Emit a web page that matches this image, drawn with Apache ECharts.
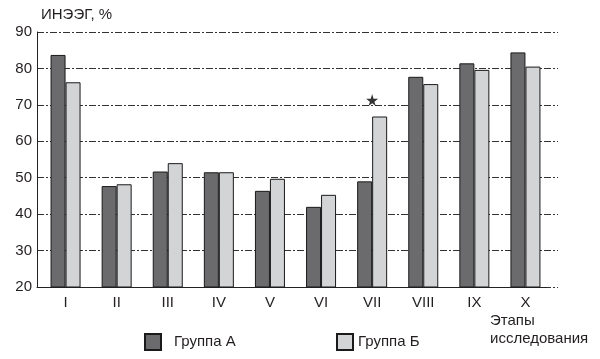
<!DOCTYPE html>
<html>
<head>
<meta charset="utf-8">
<script src="https://cdn.jsdelivr.net/npm/echarts@6/dist/echarts.min.js"></script>
<style>html,body{margin:0;padding:0;background:#fff}#c{width:600px;height:359px}</style>
</head>
<body>
<div id="c"></div>
<script>
const categories = ['I','II','III','IV','V','VI','VII','VIII','IX','X'];
const groupA = [83.7, 47.7, 51.7, 51.5, 46.4, 42.0, 49.0, 77.7, 81.4, 84.4];
const groupB = [76.2, 48.2, 54.0, 51.5, 49.7, 45.3, 66.8, 75.7, 79.6, 80.5];
const yMin = 20, yMax = 90, yStep = 10;
const starMarks = [['VII', 71.3]];
const seriesNames = ['Группа А', 'Группа Б'];
const yTitle = 'ИНЭЭГ, %';
const xTitle = 'Этапы\nисследования';

const FONT = 'Liberation Sans, Arial, Helvetica, sans-serif';
const TXT = '#231f20';
const chart = echarts.init(document.getElementById('c'), null, {renderer: 'canvas'});
const starPath = 'path://M50,0 L61,35 L98,35 L68,57 L79,91 L50,70 L21,91 L32,57 L2,35 L39,35 Z';

chart.setOption({
  animation: false,
  backgroundColor: '#fff',
  textStyle: {fontFamily: FONT, color: TXT},
  title: [
    {text: yTitle, left: 41, top: 7, padding: 0, textStyle: {fontFamily: FONT, fontSize: 15, fontWeight: 'normal', color: TXT}},
    {text: xTitle, left: 490, top: 312, padding: 0, textStyle: {fontFamily: FONT, fontSize: 15, fontWeight: 'normal', color: TXT, lineHeight: 18}}
  ],
  legend: [
    {data: [seriesNames[0]], left: 144, top: 333, padding: 0, itemWidth: 16, itemHeight: 16, icon: 'rect',
     textStyle: {fontFamily: FONT, fontSize: 15, color: TXT, padding: [0,0,0,8]}},
    {data: [seriesNames[1]], left: 336, top: 333, padding: 0, itemWidth: 16, itemHeight: 16, icon: 'rect',
     textStyle: {fontFamily: FONT, fontSize: 15, color: TXT}}
  ],
  grid: [
    {left: 40, width: 511, top: 32, bottom: 72},   // bars
    {left: 37, width: 521, top: 32, bottom: 72},   // y axis + gridlines
    {left: 37, width: 510, top: 32, bottom: 72}    // x axis line
  ],
  xAxis: [
    {gridIndex: 0, type: 'category', data: categories, axisLine: {show: false}, axisTick: {show: false},
     axisLabel: {fontFamily: FONT, fontSize: 15, color: TXT, margin: 8}},
    {gridIndex: 1, type: 'category', data: categories, show: false},
    {gridIndex: 2, type: 'category', data: categories, axisLine: {show: true, lineStyle: {color: '#222', width: 1}},
     axisTick: {show: false}, axisLabel: {show: false}}
  ],
  yAxis: [
    {gridIndex: 0, type: 'value', min: yMin, max: yMax, interval: yStep, show: false},
    {gridIndex: 1, type: 'value', min: yMin, max: yMax, interval: yStep,
     axisLine: {show: true, lineStyle: {color: '#222', width: 1}}, axisTick: {show: false},
     axisLabel: {fontFamily: FONT, fontSize: 15, color: TXT, margin: 5, padding: [3,0,0,0]},
     splitLine: {show: true, lineStyle: {color: '#333', width: 1, type: [7, 2, 2, 2]}}},
    {gridIndex: 2, type: 'value', min: yMin, max: yMax, show: false}
  ],
  series: [
    {name: seriesNames[0], type: 'bar', xAxisIndex: 0, yAxisIndex: 0, data: groupA, barWidth: 15, barGap: '0%',
     itemStyle: {color: '#6b6b6d', borderColor: '#1a1a1a', borderWidth: 1}},
    {name: seriesNames[1], type: 'bar', xAxisIndex: 0, yAxisIndex: 0, data: groupB, barWidth: 15, barGap: '0%',
     itemStyle: {color: '#d3d4d6', borderColor: '#1a1a1a', borderWidth: 1}},
    {name: 'star', type: 'scatter', xAxisIndex: 0, yAxisIndex: 0, data: starMarks, symbol: starPath, symbolSize: 12,
     itemStyle: {color: '#000'}, silent: true, z: 5}
  ]
});
</script>
</body>
</html>
